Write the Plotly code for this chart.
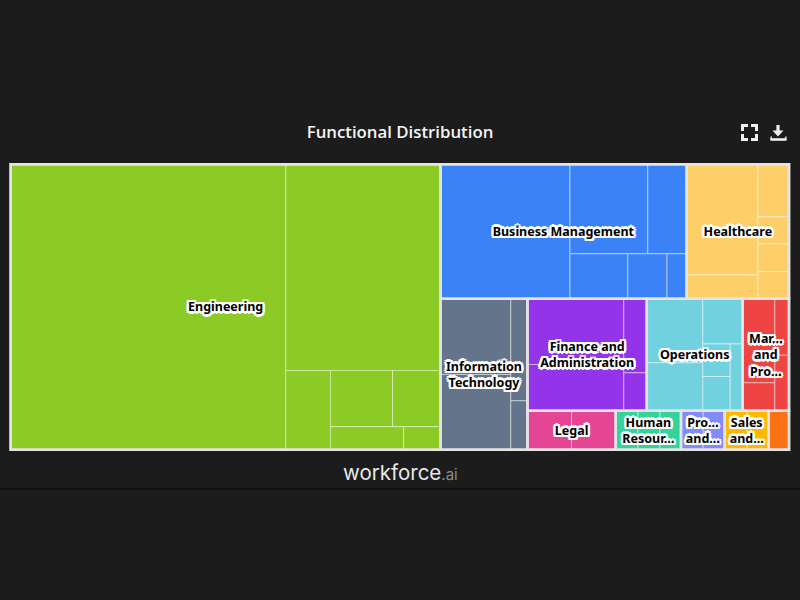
import plotly.graph_objects as go

# ---- data -------------------------------------------------------------
groups = ["Engineering", "Business Management", "Healthcare", "Information Technology",
          "Finance and Administration", "Operations", "Marketing and Product",
          "Legal", "Human Resources", "Product and Design", "Sales and Support", "Other"]
group_labels = ["Engineering", "Business Management", "Healthcare", "Information<br>Technology",
                "Finance and<br>Administration", "Operations", "Mar...<br>and<br>Pro...",
                "Legal", "Human<br>Resour...", "Pro...<br>and...", "Sales<br>and...", ""]
group_colors = ["#8ccb26", "#3b82f6", "#fecf69", "#64748b", "#9333ea", "#72d1df",
                "#ef4444", "#e54595", "#34d399", "#818cf8", "#ffb800", "#f97316"]

engineering = [78541, 31915, 3540, 3484, 2698, 1684, 846]
business = [17431, 6971, 3485, 2601, 1764, 887]
healthcare = [7886, 1711, 1631, 843, 853, 846]
information_tech = [5322, 5287, 1703, 817]
finance = [6327, 4459, 1702, 874]
operations = [3584, 2688, 1799, 884, 933, 842]
marketing = [2705, 902, 801, 789]
legal = [1712, 1719]
human_resources = [867, 856, 817]
product = [864, 836]
sales = [875, 836]
other = [790]

# How each function's roles nest: 'h' = side by side, 'v' = stacked; ints index the values.
nesting = {
    "Engineering": ('h', [0, ('v', [1, ('h', [2, ('v', [('h', [3, 4]), ('h', [5, 6])])])])]),
    "Business Management": ('h', [0, ('v', [('h', [1, 2]), ('h', [3, 4, 5])])]),
    "Healthcare": ('h', [('v', [0, 1]), ('v', [2, 3, 4, 5])]),
    "Information Technology": ('h', [('v', [0, 1]), ('v', [2, 3])]),
    "Finance and Administration": ('h', [('v', [0, 1]), ('v', [2, 3])]),
    "Operations": ('h', [('v', [0, 1]), ('v', [2, ('h', [('v', [3, 4]), 5])])]),
    "Marketing and Product": ('h', [('v', [0, 1]), ('v', [2, 3])]),
    "Legal": ('h', [0, 1]),
    "Human Resources": ('h', [0, 1, 2]),
    "Product and Design": ('h', [0, 1]),
    "Sales and Support": ('h', [0, 1]),
    "Other": 0,
}
group_values = dict(zip(groups, [engineering, business, healthcare, information_tech, finance,
                                 operations, marketing, legal, human_resources, product, sales, other]))
arrangement = ('h', ["Engineering",
                     ('v', [('h', ["Business Management", "Healthcare"]),
                            ('h', ["Information Technology",
                                   ('v', [('h', ["Finance and Administration", "Operations", "Marketing and Product"]),
                                          ('h', ["Legal", "Human Resources", "Product and Design",
                                                 "Sales and Support", "Other"])])])])])

PANEL = "#e4e4e4"
CLEAR = "rgba(0,0,0,0)"
SEAM = "rgba(255,255,255,0.5)"
color_of = dict(zip(groups, group_colors))
label_of = dict(zip(groups, group_labels))


class Tree:
    def __init__(self):
        self.ids, self.parents, self.values, self.colors, self.widths, self.text, self.lines = [], [], [], [], [], [], []
        self.n = 0

    def add(self, parent, value, color, width, text="", line=PANEL):
        self.n += 1
        nid = f"n{self.n}"
        self.ids.append(nid); self.parents.append(parent); self.values.append(value)
        self.colors.append(color); self.widths.append(width); self.text.append(text); self.lines.append(line)
        return nid


def wants(depth):
    # slice-dice packing alternates with depth: even depth -> side by side, odd depth -> stacked
    return 'h' if depth % 2 == 0 else 'v'


def place_roles(tree, node, parent, depth, group):
    if isinstance(node, int):
        tree.add(parent, group_values[group][node], color_of[group], 1, line=SEAM)
        return
    kind, kids = node
    if wants(depth) != kind:
        parent = tree.add(parent, 0, color_of[group], 0)
        depth += 1
    me = tree.add(parent, 0, color_of[group], 0)
    for k in kids:
        place_roles(tree, k, me, depth + 1, group)


def place(tree, node, parent, depth, outline):
    if isinstance(node, str):
        if outline:
            tree.add(parent, sum(group_values[node]), CLEAR, 2.5, label_of[node])
        else:
            place_roles(tree, nesting[node], parent, depth, node)
        return
    kind, kids = node
    me = tree.add(parent, 0, CLEAR if outline else PANEL, 0)
    for k in kids:
        place(tree, k, me, depth + 1, outline)


cells = Tree()
place(cells, arrangement, "", 0, False)
outlines = Tree()
place(outlines, arrangement, "", 0, True)
# outer frame of the panel
outlines.widths[0] = 2.5

W, H = 800, 600
domain = dict(x=[10.7 / W, 789.0 / W], y=[1 - 449.7 / H, 1 - 164.2 / H])
tiling = dict(packing="slice-dice", pad=0)
pads = dict(t=0, l=0, r=0, b=0)

fig = go.Figure()
fig.add_trace(go.Treemap(
    ids=cells.ids, labels=cells.ids, parents=cells.parents, values=cells.values,
    branchvalues="remainder", sort=False, textinfo="none", hoverinfo="skip",
    domain=domain, tiling=tiling, pathbar=dict(visible=False),
    marker=dict(colors=cells.colors, pad=pads, depthfade=False,
                line=dict(width=cells.widths, color=cells.lines)),
))
fig.add_trace(go.Treemap(
    ids=outlines.ids, labels=outlines.ids, parents=outlines.parents, values=outlines.values,
    text=outlines.text, textinfo="text", textposition="middle center",
    branchvalues="remainder", sort=False, hoverinfo="skip",
    domain=domain, tiling=tiling, pathbar=dict(visible=False),
    textfont=dict(family="Noto Sans", size=12.5, color="#000000", weight=700,
                  shadow="2.5px 0 0 #fff,-2.5px 0 0 #fff,0 2.5px 0 #fff,0 -2.5px 0 #fff,"
                         "2px 2px 0 #fff,-2px 2px 0 #fff,2px -2px 0 #fff,-2px -2px 0 #fff"),
    marker=dict(colors=outlines.colors, pad=pads, depthfade=False,
                line=dict(width=outlines.widths, color=outlines.lines)),
))


def seg(x0, y0, x1, y1, width=3, color="#f0f0f0"):
    return dict(type="line", xref="paper", yref="paper",
                x0=x0 / W, x1=x1 / W, y0=1 - y0 / H, y1=1 - y1 / H,
                line=dict(color=color, width=width))


def poly(points, color="#f0f0f0"):
    path = "M" + " L".join(f"{x / W},{1 - y / H}" for x, y in points) + " Z"
    return dict(type="path", xref="paper", yref="paper", path=path,
                fillcolor=color, line=dict(width=0))


icons = [
    # expand icon
    seg(742.5, 131, 742.5, 125), seg(741, 125.5, 748, 125.5),
    seg(751, 125.5, 758, 125.5), seg(756.5, 125, 756.5, 131),
    seg(742.5, 134, 742.5, 140), seg(741, 139.5, 748, 139.5),
    seg(751, 139.5, 758, 139.5), seg(756.5, 140, 756.5, 134),
    # download icon
    seg(778, 125, 778, 131, 3.2), poly([(772.5, 130.5), (783.5, 130.5), (778, 136.5)]),
    seg(770.5, 139.5, 786.5, 139.5, 2.6),
    seg(771.2, 136.5, 771.2, 140, 1.4), seg(785.8, 136.5, 785.8, 140, 1.4),
    # divider under the card
    seg(0, 489, 800, 489, 1, "#050505"),
]

fig.update_layout(
    width=W, height=H, margin=dict(l=0, r=0, t=0, b=0), autosize=False,
    paper_bgcolor="#1c1c1c", plot_bgcolor="#1c1c1c", showlegend=False,
    uniformtext=dict(mode="show", minsize=12.5),
    title=dict(text="Functional Distribution", x=0.5, xanchor="center", xref="paper",
               y=1 - 132 / H, yanchor="middle", yref="paper",
               font=dict(family="Open Sans", size=16.8, color="#f5f5f5", weight=600)),
    shapes=icons,
    annotations=[dict(text='workforce<span style="color:#8c8c8c;font-size:15px">.ai</span>',
                      x=0.5, y=1 - 472 / H, xref="paper", yref="paper",
                      xanchor="center", yanchor="middle", showarrow=False,
                      font=dict(family="Inter", size=20.5, color="#e8e8e8", weight=400))],
)
fig.write_html("out.html", config=dict(displayModeBar=False),
               post_script="document.body.style.margin='0';document.body.style.background='#1c1c1c';")
